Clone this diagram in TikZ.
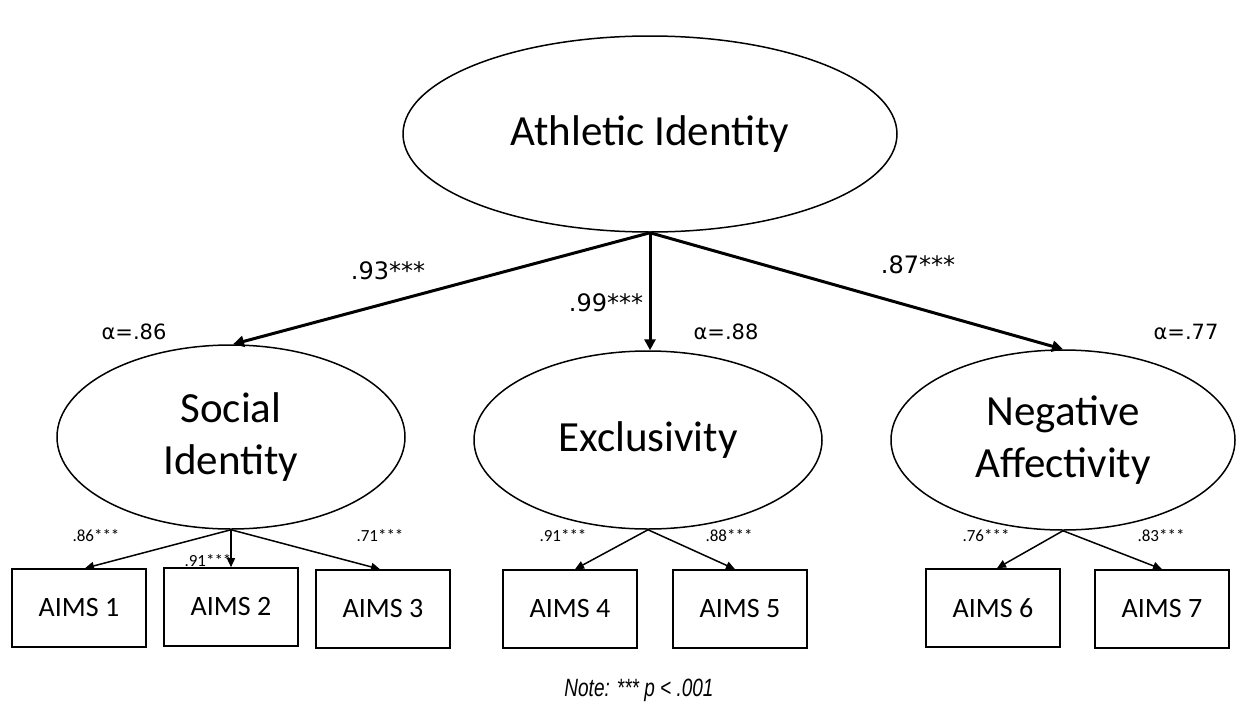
\documentclass[tikz,border=0pt]{standalone}
\usepackage{fontspec}
\setmainfont{Carlito}
\newfontfamily\dejavu{DejaVu Sans}
\newfontfamily\notefont[FakeStretch=0.76]{Liberation Sans}
\usetikzlibrary{shapes.geometric,arrows.meta}
\begin{document}
\begin{tikzpicture}[x=1pt,y=-1pt,
  latent/.style={draw,ellipse,line width=1.5pt,inner sep=0pt},
  indicator/.style={draw,rectangle,line width=1.6pt,minimum width=134pt,minimum height=78pt,inner sep=0pt,font=\fontsize{28}{32}\selectfont},
  bigarrow/.style={line width=3pt,-{Triangle[length=11pt,width=11pt]}},
  smallarrow/.style={line width=1.5pt,-{Triangle[length=9pt,width=8pt]}},
  bigload/.style={font=\dejavu\fontsize{24}{28}\selectfont},
  alphaload/.style={font=\dejavu\fontsize{21}{25}\selectfont},
  smallload/.style={font=\fontsize{17}{20}\selectfont}]
\useasboundingbox (0,0) rectangle (1239,715);
\fill[white] (0,0) rectangle (1239,715);
% latent variables
\node[latent,minimum width=494pt,minimum height=196pt,font=\fontsize{43}{50}\selectfont] (top) at (650,134) {Athletic Identity};
\node[latent,minimum width=348pt,minimum height=184pt,font=\fontsize{43}{52}\selectfont,align=center] (soc) at (231,437) {Social\\Identity};
\node[latent,minimum width=348pt,minimum height=178pt,font=\fontsize{43}{52}\selectfont] (exc) at (648,440) {Exclusivity};
\node[latent,minimum width=344pt,minimum height=180pt,font=\fontsize{43}{52}\selectfont,align=center] (neg) at (1063,440) {Negative\\Affectivity};
% indicators
\node[indicator] (a1) at (79,608) {AIMS 1};
\node[indicator] (a2) at (231,607) {AIMS 2};
\node[indicator] (a3) at (383,609) {AIMS 3};
\node[indicator] (a4) at (570,609) {AIMS 4};
\node[indicator] (a5) at (740,609) {AIMS 5};
\node[indicator] (a6) at (993,608) {AIMS 6};
\node[indicator] (a7) at (1162,609) {AIMS 7};
% structural paths
\draw[bigarrow] (top.south) -- ([xshift=2pt]soc.north);
\draw[bigarrow] (top.south) -- ([xshift=2pt]exc.north);
\draw[bigarrow] (top.south) -- (neg.north);
% measurement paths
\draw[smallarrow] (soc.south) -- ([xshift=6pt]a1.north);
\draw[smallarrow] (soc.south) -- (a2.north);
\draw[smallarrow] (soc.south) -- ([xshift=-3pt]a3.north);
\draw[smallarrow] (exc.south) -- ([xshift=5pt]a4.north);
\draw[smallarrow] (exc.south) -- ([xshift=-5pt]a5.north);
\draw[smallarrow] (neg.south) -- ([xshift=4pt]a6.north);
\draw[smallarrow] (neg.south) -- (a7.north);
% loadings
\node[bigload] (l1) at (388,271) {.93***};
\node[bigload] (l2) at (606,303) {.99***};
\node[bigload] (l3) at (918,265) {.87***};
\node[alphaload] (al1) at (134,332) {α=.86};
\node[alphaload] (al2) at (726,332) {α=.88};
\node[alphaload] (al3) at (1186,332) {α=.77};
\node[smallload] (s1) at (96,536) {.86***};
\node[smallload] (s2) at (208,561) {.91***};
\node[smallload] (s3) at (380,536) {.71***};
\node[smallload] (s4) at (563,536) {.91***};
\node[smallload] (s5) at (729,536) {.88***};
\node[smallload] (s6) at (986,536) {.76***};
\node[smallload] (s7) at (1161,536) {.83***};
% note
\node[font=\notefont\itshape\fontsize{25}{29}\selectfont] (note) at (639,690) {Note: *** p < .001};
\end{tikzpicture}
\end{document}
